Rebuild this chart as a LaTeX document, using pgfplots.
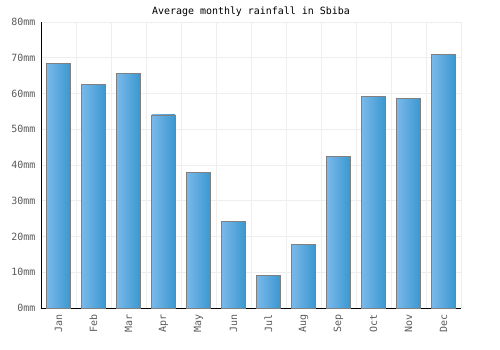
\documentclass[border=0pt]{standalone}
\usepackage{pgfplots}
\pgfplotsset{compat=1.18}
\usepackage{fontspec}
\setmainfont{DejaVu Sans Mono}
\definecolor{gridc}{RGB}{238,238,238}
\definecolor{barL}{RGB}{122,184,234}
\definecolor{barR}{RGB}{58,152,208}
\definecolor{tickc}{RGB}{90,90,90}
\definecolor{barE}{RGB}{128,128,128}
\pgfplotsset{mybar/.style={ybar, bar width=0.67, bar shift=0pt, draw=barE, line width=0.8pt, left color=barL, right color=barR}}
\begin{document}
\begin{tikzpicture}
\begin{axis}[
  scale only axis,
  width=420bp, height=286bp,
  xmin=-0.5, xmax=11.5,
  ymin=0, ymax=80,
  ytick={0,10,20,30,40,50,60,70,80},
  yticklabels={0mm,10mm,20mm,30mm,40mm,50mm,60mm,70mm,80mm},
  xtick={0,...,11},
  xticklabels={Jan,Feb,Mar,Apr,May,Jun,Jul,Aug,Sep,Oct,Nov,Dec},
  minor xtick={-0.5,0.5,...,11.5},
  xmajorgrids=false, xminorgrids=true, ymajorgrids=true,
  grid style={draw=gridc, line width=0.6pt},
  minor grid style={draw=gridc, line width=0.6pt},
  axis x line*=bottom, axis y line*=left,
  axis line style={black, line width=0.8pt, -},
  major tick length=0pt, minor tick length=0pt,
  tick label style={font=\fontsize{10}{12}\selectfont, text=tickc},
  xticklabel style={rotate=90, anchor=east, xshift=-3bp},
  yticklabel style={xshift=-2bp},
  /pgf/number format/assume math mode=true,
  title={Average monthly rainfall in Sbiba},
  title style={font=\fontsize{10}{12}\selectfont, yshift=-4bp},
  ybar, bar width=0.67, bar shift=0pt,
]
\addplot[mybar] coordinates {(0,68.5)};
\addplot[mybar] coordinates {(1,62.6)};
\addplot[mybar] coordinates {(2,65.5)};
\addplot[mybar] coordinates {(3,54.0)};
\addplot[mybar] coordinates {(4,38.0)};
\addplot[mybar] coordinates {(5,24.3)};
\addplot[mybar] coordinates {(6,9.2)};
\addplot[mybar] coordinates {(7,17.8)};
\addplot[mybar] coordinates {(8,42.3)};
\addplot[mybar] coordinates {(9,59.3)};
\addplot[mybar] coordinates {(10,58.7)};
\addplot[mybar] coordinates {(11,71.0)};
\end{axis}
\path[use as bounding box] (current axis.south west) ++(-41bp,-42bp) rectangle ++(500bp,350bp);
\end{tikzpicture}
\end{document}
